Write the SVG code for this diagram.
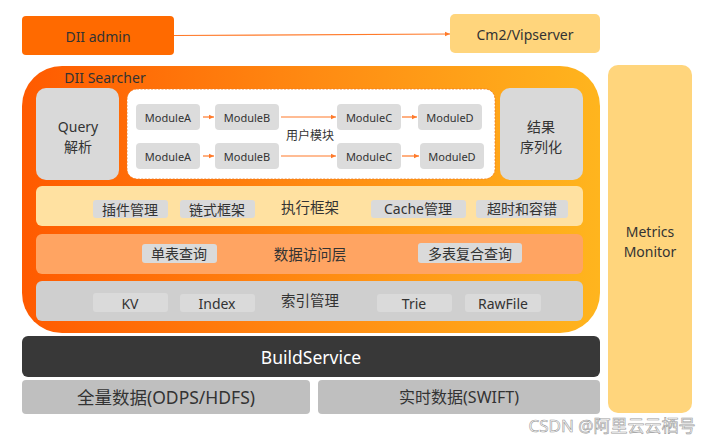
<svg xmlns="http://www.w3.org/2000/svg" width="719" height="440" viewBox="0 0 719 440">
<defs>
<linearGradient id="og" x1="0" y1="0" x2="1" y2="0">
<stop offset="0" stop-color="#ff5a00"/>
<stop offset="0.5" stop-color="#ff8a12"/>
<stop offset="1" stop-color="#ffb51e"/>
</linearGradient>
<marker id="ah" markerWidth="6" markerHeight="6" refX="5" refY="3" orient="auto" markerUnits="userSpaceOnUse">
<path d="M0,0.8 L5,3 L0,5.2 Z" fill="#ff7a2a"/>
</marker>
<style>
text{font-family:"Noto Sans","Noto Sans CJK SC",sans-serif;fill:#333;text-anchor:middle;dominant-baseline:central}
.mod{fill:#dcdcdc}
.modt{font-size:11px}
.chip{fill:#dadada}
.chipt{font-size:14px}
.lbl{font-size:14px}
.big{font-size:14.5px}
.gray{fill:#d9d9d9}
.conn{stroke:#ff7a2a;stroke-width:1.2;fill:none;marker-end:url(#ah)}
</style>
</defs>
<g id="dii-admin">
<rect x="22" y="16" width="152" height="39" rx="4" fill="#ff6a00"/>
<text x="98" y="36" class="lbl">DII admin</text>
</g>
<g id="cm2">
<rect x="450" y="14" width="150" height="39" rx="5" fill="#ffd57c"/>
<text x="525" y="34" class="lbl">Cm2/Vipserver</text>
</g>
<g id="metrics">
<rect x="608" y="65" width="84" height="348" rx="10" fill="#ffd57c"/>
<text x="650" y="231" class="lbl">Metrics</text>
<text x="650" y="251" class="lbl">Monitor</text>
</g>
<g id="dii-searcher">
<rect x="22" y="66" width="578" height="267" rx="40" fill="url(#og)"/>
<text x="105" y="77" class="lbl">DII Searcher</text>
</g>
<g id="query">
<rect x="36" y="88" width="83" height="92" rx="10" class="gray"/>
<text x="78" y="126" class="lbl">Query</text>
<text x="78" y="146" class="lbl">解析</text>
</g>
<g id="result">
<rect x="500" y="88" width="83" height="92" rx="10" class="gray"/>
<text x="541" y="126" class="lbl">结果</text>
<text x="541" y="146" class="lbl">序列化</text>
</g>
<g id="user-modules">
<rect x="127" y="89" width="368" height="90" rx="10" fill="#fff" stroke="#f07a20" stroke-width="0.8" stroke-dasharray="2,1.5"/>
<text x="310" y="135" style="font-size:12px">用户模块</text>
</g>
<g id="moduleA1"><rect x="136" y="104" width="64" height="26" rx="4" class="mod"/><text x="168" y="117" class="modt">ModuleA</text></g>
<g id="moduleB1"><rect x="215" y="104" width="64" height="26" rx="4" class="mod"/><text x="247" y="117" class="modt">ModuleB</text></g>
<g id="moduleC1"><rect x="337" y="104" width="64" height="26" rx="4" class="mod"/><text x="369" y="117" class="modt">ModuleC</text></g>
<g id="moduleD1"><rect x="418" y="104" width="64" height="26" rx="4" class="mod"/><text x="450" y="117" class="modt">ModuleD</text></g>
<g id="moduleA2"><rect x="136" y="143" width="64" height="26" rx="4" class="mod"/><text x="168" y="156" class="modt">ModuleA</text></g>
<g id="moduleB2"><rect x="215" y="143" width="64" height="26" rx="4" class="mod"/><text x="247" y="156" class="modt">ModuleB</text></g>
<g id="moduleC2"><rect x="337" y="143" width="64" height="26" rx="4" class="mod"/><text x="369" y="156" class="modt">ModuleC</text></g>
<g id="moduleD2"><rect x="420" y="143" width="64" height="26" rx="4" class="mod"/><text x="452" y="156" class="modt">ModuleD</text></g>
<g id="exec">
<rect x="36" y="186" width="547" height="40" rx="6" fill="#ffe1a1"/>
<text x="310" y="207" class="big">执行框架</text>
<rect x="93" y="200" width="75" height="18" rx="3" class="chip"/><text x="130" y="209" class="chipt">插件管理</text>
<rect x="180" y="200" width="75" height="18" rx="3" class="chip"/><text x="217" y="209" class="chipt">链式框架</text>
<rect x="371" y="200" width="95" height="18" rx="3" class="chip"/><text x="418" y="208" class="chipt">Cache管理</text>
<rect x="476" y="200" width="92" height="18" rx="3" class="chip"/><text x="522" y="208" class="chipt">超时和容错</text>
</g>
<g id="data-access">
<rect x="36" y="234" width="547" height="40" rx="6" fill="#ffa462"/>
<text x="310" y="254" class="big">数据访问层</text>
<rect x="142" y="244" width="75" height="19" rx="3" class="chip"/><text x="179" y="253" class="chipt">单表查询</text>
<rect x="418" y="243" width="104" height="20" rx="3" class="chip"/><text x="470" y="253" class="chipt">多表复合查询</text>
</g>
<g id="index">
<rect x="36" y="281" width="547" height="40" rx="6" fill="#cfcfcf"/>
<text x="310" y="300" class="big">索引管理</text>
<rect x="93" y="293" width="75" height="19" rx="3" class="chip"/><text x="130" y="303" class="chipt">KV</text>
<rect x="180" y="294" width="75" height="18" rx="3" class="chip"/><text x="217" y="303" class="chipt">Index</text>
<rect x="377" y="294" width="75" height="18" rx="3" class="chip"/><text x="414" y="303" class="chipt">Trie</text>
<rect x="465" y="294" width="76" height="18" rx="3" class="chip"/><text x="503" y="303" class="chipt">RawFile</text>
</g>
<g id="buildservice">
<rect x="22" y="336" width="578" height="41" rx="6" fill="#383838"/>
<text x="311" y="357" style="font-size:17.5px;fill:#fff">BuildService</text>
</g>
<g id="full-data">
<rect x="22" y="380" width="288" height="34" rx="4" fill="#bfbfbf"/>
<text x="166" y="397" style="font-size:17.5px">全量数据(ODPS/HDFS)</text>
</g>
<g id="realtime-data">
<rect x="318" y="380" width="282" height="34" rx="4" fill="#bfbfbf"/>
<text x="459" y="397" style="font-size:16px">实时数据(SWIFT)</text>
</g>
<g id="connectors">
<line x1="174" y1="35.5" x2="450" y2="34" class="conn"/>
<line x1="203" y1="117" x2="214" y2="117" class="conn"/>
<line x1="281" y1="117" x2="336" y2="117" class="conn"/>
<line x1="402" y1="117" x2="417" y2="117" class="conn"/>
<line x1="203" y1="156" x2="214" y2="156" class="conn"/>
<line x1="281" y1="156" x2="336" y2="156" class="conn"/>
<line x1="402" y1="156" x2="419" y2="156" class="conn"/>
</g>
<text x="612" y="425" style="font-size:17px;fill:#fff;stroke:#9a9a9a;stroke-width:0.6">CSDN @阿里云云栖号</text>
</svg>
